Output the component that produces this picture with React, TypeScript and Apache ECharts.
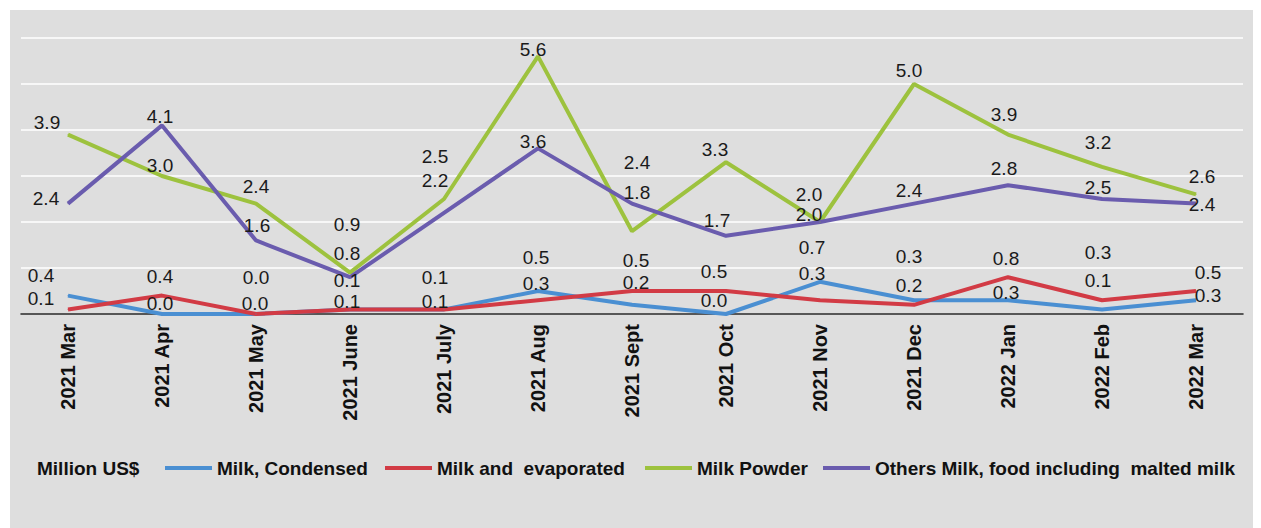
import React, { useEffect, useRef } from "react";
import * as echarts from "echarts";

const categories = [
  "2021 Mar", "2021 Apr", "2021 May", "2021 June", "2021 July", "2021 Aug", "2021 Sept",
  "2021 Oct", "2021 Nov", "2021 Dec", "2022 Jan", "2022 Feb", "2022 Mar",
];
const seriesNames = [
  "Milk, Condensed",
  "Milk and  evaporated",
  "Milk Powder",
  "Others Milk, food including  malted milk",
];
const unitLabel = "Million US$";

const condensed = [0.4, 0.0, 0.0, 0.1, 0.1, 0.5, 0.2, 0.0, 0.7, 0.3, 0.3, 0.1, 0.3];
const evaporated = [0.1, 0.4, 0.0, 0.1, 0.1, 0.3, 0.5, 0.5, 0.3, 0.2, 0.8, 0.3, 0.5];
const powder = [3.9, 3.0, 2.4, 0.9, 2.5, 5.6, 1.8, 3.3, 2.0, 5.0, 3.9, 3.2, 2.6];
const others = [2.4, 4.1, 1.6, 0.8, 2.2, 3.6, 2.4, 1.7, 2.0, 2.4, 2.8, 2.5, 2.4];

// label centre shifts relative to each point (style only)
const condensedShift = [[-27, -20], [-2, -11], [0, -37], [-3, -29], [-9, -32], [-2, -34], [4, -22], [-12, -14], [-8, -34], [-5, -44], [-2, -8], [-4, -29], [12, -5]];
const evaporatedShift = [[-27, -11], [-2, -19], [-1, -11], [-3, -8], [-9, -8], [-2, -17], [4, -31], [-12, -20], [-8, -27], [-5, -19], [-2, -19], [-4, -48], [12, -19]];
const powderShift = [[-21, -12], [-2, -11], [0, -17], [-3, -48], [-9, -43], [-5, -7], [5, -39], [-11, -13], [-11, -28], [-5, -14], [-4, -20], [-4, -24], [6, -18]];
const othersShift = [[-22, -5], [-2, -9], [1, -15], [-3, -24], [-9, -32], [-5, -7], [5, -41], [-9, -15], [-11, -8], [-5, -13], [-4, -17], [-4, -12], [6, 1]];

const colors = ["#4a8fd2", "#d23b45", "#9dc23e", "#6a5cae"];
const FONT = '"Liberation Sans", Arial, Helvetica, sans-serif';

function makeSeries(name: string, values: number[], shifts: number[][], color: string) {
  return {
    name,
    type: "line",
    symbol: "circle",
    symbolSize: 1,
    showSymbol: true,
    itemStyle: { color },
    lineStyle: { color, width: 4 },
    label: {
      show: true,
      position: "inside",
      color: "#1a1a1a",
      fontSize: 19,
      fontFamily: FONT,
      formatter: (p: any) => Number(p.value).toFixed(1),
    },
    data: values.map((v, i) => ({ value: v, label: { offset: shifts[i] } })),
  };
}

export default function App() {
  const ref = useRef<HTMLDivElement>(null);
  useEffect(() => {
    if (!ref.current) return;
    const chart = echarts.init(ref.current, null, { renderer: "svg" });
    const legendLefts = [155, 375, 635, 813];
    chart.setOption({
      animation: false,
      backgroundColor: "#dedede",
      grid: { left: 11, right: 10, top: 28, bottom: 214, containLabel: false, outerBoundsMode: "none" },
      legend: seriesNames.map((n, i) => ({
        data: [n],
        left: legendLefts[i],
        top: 448,
        padding: 0,
        icon: "rect",
        itemWidth: 47,
        itemHeight: 4,
        selectedMode: false,
        textStyle: { fontSize: 19, fontWeight: "bold", color: "#111", fontFamily: FONT, lineHeight: 20 },
      })),
      graphic: [
        {
          type: "text",
          left: 27,
          top: 449,
          style: { text: unitLabel, font: `bold 19px ${FONT}`, fill: "#111" },
        },
      ],
      xAxis: {
        type: "category",
        data: categories,
        boundaryGap: true,
        axisLine: { lineStyle: { color: "#222", width: 1.5 } },
        axisTick: { length: 6, lineStyle: { color: "#222", width: 1.5 } },
        axisLabel: {
          rotate: 90,
          fontSize: 20,
          fontWeight: "bold",
          color: "#111",
          fontFamily: FONT,
          margin: 10,
          interval: 0,
        },
      },
      yAxis: {
        type: "value",
        min: 0,
        max: 6,
        interval: 1,
        axisLabel: { show: false },
        axisLine: { show: false },
        axisTick: { show: false },
        splitLine: { lineStyle: { color: "#ffffff", width: 1.5 } },
      },
      series: [
        makeSeries(seriesNames[0], condensed, condensedShift, colors[0]),
        makeSeries(seriesNames[1], evaporated, evaporatedShift, colors[1]),
        makeSeries(seriesNames[2], powder, powderShift, colors[2]),
        makeSeries(seriesNames[3], others, othersShift, colors[3]),
      ],
    });
    return () => chart.dispose();
  }, []);
  return (
    <div
      ref={ref}
      style={{ position: "fixed", left: 10, top: 10, width: 1243, height: 518 }}
    />
  );
}
